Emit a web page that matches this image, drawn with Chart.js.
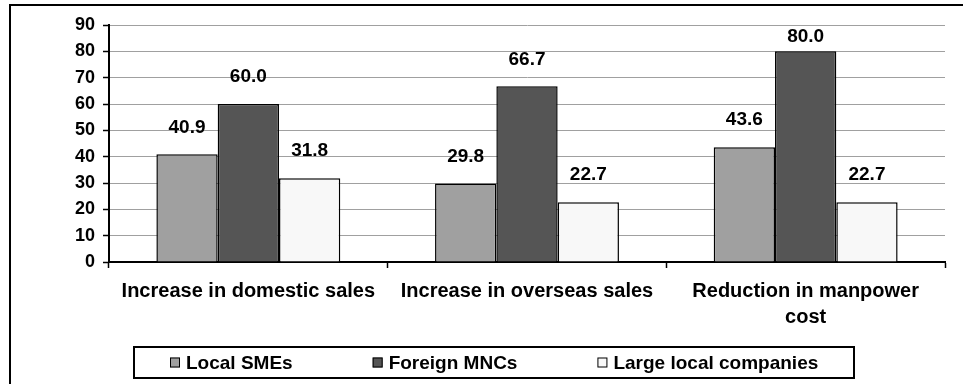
<!DOCTYPE html>
<html lang="en">
<head>
    <meta charset="UTF-8">
    <script src="https://cdn.jsdelivr.net/npm/chart.js"></script>
    <title>Benefits by company type</title>
    <style>
        body { margin: 0; background: #fff; }
        #wrap { width: 963px; height: 384px; }
    </style>
</head>
<body>
    <div id="wrap">
        <canvas id="myChart" width="963" height="384"></canvas>
    </div>
<script>
    const categories = [
        ['Increase in domestic sales'],
        ['Increase in overseas sales'],
        ['Reduction in manpower', 'cost']
    ];
    const seriesNames = ['Local SMEs', 'Foreign MNCs', 'Large local companies'];
    const localSMEs = [40.9, 29.8, 43.6];
    const foreignMNCs = [60.0, 66.7, 80.0];
    const largeLocal = [31.8, 22.7, 22.7];
    const yTicks = [0, 10, 20, 30, 40, 50, 60, 70, 80, 90];

    const FONT = 'Arial, "Liberation Sans", sans-serif';
    const fills = ['#a0a0a0', '#555555', '#f8f8f8'];

    // value labels above each bar, kept inside the plot area
    const valueLabels = {
        id: 'valueLabels',
        afterDatasetsDraw(chart) {
            const ctx = chart.ctx;
            ctx.save();
            ctx.font = 'bold 19px ' + FONT;
            ctx.fillStyle = '#000';
            ctx.textAlign = 'center';
            ctx.textBaseline = 'middle';
            chart.data.datasets.forEach((ds, i) => {
                chart.getDatasetMeta(i).data.forEach((bar, j) => {
                    const y = Math.max(bar.y - 27, chart.chartArea.top + 12);
                    ctx.fillText(ds.data[j].toFixed(1), bar.x, y);
                });
            });
            ctx.restore();
        }
    };

    // outer frame plus the boxed legend underneath
    const frameAndLegend = {
        id: 'frameAndLegend',
        afterDraw(chart) {
            const ctx = chart.ctx;
            ctx.save();
            ctx.strokeStyle = '#000';
            ctx.lineWidth = 2;
            ctx.strokeRect(10, 5, 1000, 400);

            const left = 134, top = 347, right = 854, bottom = 378;
            ctx.strokeRect(left, top, right - left, bottom - top);

            ctx.font = 'bold 19px ' + FONT;
            ctx.textBaseline = 'middle';
            ctx.textAlign = 'left';
            const midY = (top + bottom) / 2;
            let x = left + 36;
            chart.data.datasets.forEach((ds) => {
                ctx.fillStyle = ds.backgroundColor;
                ctx.fillRect(x, midY - 5, 10, 10);
                ctx.lineWidth = 1;
                ctx.strokeRect(x + 0.5, midY - 4.5, 9, 9);
                ctx.fillStyle = '#000';
                ctx.fillText(ds.label, x + 16, midY + 1);
                x += 16 + ctx.measureText(ds.label).width + 80;
            });
            ctx.restore();
        }
    };

    const ctx = document.getElementById('myChart');
    new Chart(ctx, {
        type: 'bar',
        data: {
            labels: categories,
            datasets: [localSMEs, foreignMNCs, largeLocal].map((vals, i) => ({
                label: seriesNames[i],
                data: vals,
                backgroundColor: fills[i],
                borderColor: '#000',
                borderWidth: 1.5,
                categoryPercentage: 0.66,
                barPercentage: 1.0
            }))
        },
        options: {
            responsive: false,
            animation: false,
            layout: { padding: { left: 0, right: 18, top: 25, bottom: 0 } },
            plugins: {
                legend: { display: false },
                tooltip: { enabled: false }
            },
            scales: {
                x: {
                    grid: {
                        offset: true,
                        drawOnChartArea: false,
                        tickLength: 6,
                        tickColor: '#000',
                        tickWidth: 1.5
                    },
                    border: { color: '#000', width: 2 },
                    ticks: {
                        color: '#000',
                        padding: 10,
                        maxRotation: 0,
                        autoSkip: false,
                        font: { family: FONT, size: 20, weight: 'bold', lineHeight: 1.3 }
                    },
                    afterFit(scale) { scale.height = 122; }
                },
                y: {
                    min: 0,
                    max: 90,
                    afterBuildTicks(scale) { scale.ticks = yTicks.map(v => ({ value: v })); },
                    grid: {
                        color: '#a0a0a0',
                        lineWidth: 1,
                        tickLength: 6,
                        tickColor: '#000',
                        tickWidth: 1.5
                    },
                    border: { color: '#000', width: 2 },
                    ticks: {
                        color: '#000',
                        padding: 8,
                        font: { family: FONT, size: 18, weight: 'bold' }
                    },
                    afterFit(scale) { scale.width = 109; }
                }
            }
        },
        plugins: [valueLabels, frameAndLegend]
    });
</script>
</body>
</html>
